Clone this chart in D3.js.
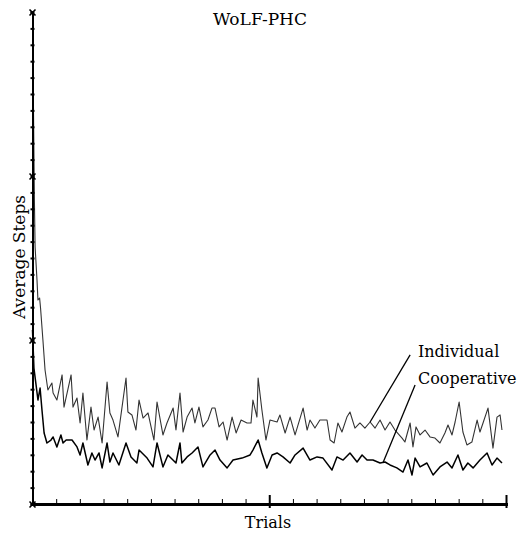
<!DOCTYPE html>
<html>
<head>
<meta charset="utf-8">
<script src="https://cdn.jsdelivr.net/npm/d3@7"></script>
<style>
  body { margin: 0; background: #fff; }
  text { font-family: 'DejaVu Serif', serif; fill: #000; }
</style>
</head>
<body>
<script>
// Individual learners
const indTrials = [0, 0.8, 1.1, 1.9, 2.3, 3.0, 3.4, 4.4, 5.3, 6.5, 8.2, 8.7, 10.3, 12.5, 13.3, 16.3, 17.1, 18.8, 20.1, 21.3,
  23.0, 24.7, 26.0, 27.7, 29.4, 31.5, 32.7, 34.0, 36.1, 39.5, 40.3, 42.0, 43.7, 45.0, 46.7, 48.8, 51.3, 52.6, 55.1, 56.8,
  59.4, 60.6, 62.3, 63.6, 65.3, 67.4, 68.6, 70.3, 72.0, 74.1, 75.8, 77.1, 78.8, 80.5, 82.2, 84.3, 86.0, 88.1, 90.6, 92.3,
  93.1, 94.8, 95.3, 96.9, 98.6, 100.3, 103.3, 104.5, 106.7, 108.8, 110.9, 114.3, 116.0, 117.2, 119.3, 121.4, 124.4, 125.7, 127.4, 129.0,
  130.7, 132.8, 134.1, 136.2, 138.3, 140.4, 142.6, 144.7, 146.8, 148.9, 151.0, 153.1, 156.1, 157.3, 159.5, 160.7, 162.0, 163.7, 165.8, 167.9,
  170.0, 172.1, 174.2, 175.5, 177.2, 178.5, 180.2, 181.8, 183.5, 185.6, 187.8, 189.0, 190.3, 192.4, 194.5, 196.2, 197.5, 198.3]
const indSteps = [30.0, 18.54, 15.67, 13.66, 12.44, 12.56, 11.95, 10.0, 8.17, 6.95, 7.38, 6.77, 6.34, 7.87, 5.91, 7.87, 5.91, 6.46, 4.94, 6.77,
  3.90, 5.91, 4.51, 5.30, 3.72, 7.44, 5.55, 5.12, 4.09, 7.68, 5.61, 5.43, 4.51, 6.34, 5.24, 5.55, 3.90, 6.22, 4.21, 4.94,
  5.85, 4.51, 6.77, 4.39, 5.30, 5.85, 4.94, 5.91, 4.70, 5.12, 5.85, 5.85, 4.70, 5.00, 3.90, 5.30, 4.33, 5.12, 4.94, 4.94,
  6.34, 5.30, 7.68, 5.73, 3.90, 5.12, 5.00, 5.43, 4.33, 5.30, 4.21, 5.85, 4.51, 5.12, 4.63, 5.12, 5.12, 3.90, 3.72, 4.94,
  4.39, 5.30, 5.61, 4.63, 4.94, 4.63, 5.00, 4.63, 5.12, 4.51, 5.00, 4.51, 4.02, 3.78, 4.94, 3.48, 4.70, 4.21, 4.51, 4.09,
  4.02, 3.72, 4.33, 4.82, 4.21, 5.00, 6.22, 4.39, 3.60, 3.78, 5.12, 4.39, 4.94, 5.85, 3.41, 5.30, 5.43, 4.51]

// Cooperative learners
const coopTrials = [0, 0.6, 1.5, 2.3, 3.2, 4.0, 4.9, 6.1, 7.8, 8.7, 10.3, 12.0, 12.9, 14.2, 16.7, 18.8, 20.1, 21.3, 23.4, 25.1,
  26.4, 28.1, 29.4, 31.5, 32.7, 34.0, 36.5, 39.5, 41.6, 44.1, 45.0, 48.4, 50.9, 52.6, 55.1, 57.2, 60.6, 62.3, 63.1, 65.3,
  67.4, 69.9, 72.0, 75.0, 77.1, 79.2, 82.2, 84.7, 88.5, 91.9, 93.1, 95.3, 96.9, 99.0, 101.2, 103.3, 105.8, 108.8, 110.9, 114.3,
  117.2, 120.2, 122.7, 126.5, 128.6, 131.2, 134.1, 137.1, 139.2, 141.3, 143.8, 146.8, 148.9, 151.0, 153.9, 156.5, 158.6, 160.3, 161.6, 163.7,
  166.6, 169.2, 172.1, 175.1, 177.2, 179.7, 181.8, 183.9, 186.1, 189.0, 192.0, 194.1, 196.2, 198.3]
const coopSteps = [10.61, 8.29, 7.26, 6.34, 7.07, 5.73, 4.33, 3.72, 3.90, 4.09, 3.48, 4.21, 3.72, 3.90, 3.90, 3.48, 2.99, 3.72, 2.38, 3.11,
  2.68, 3.11, 2.20, 3.72, 2.56, 3.11, 2.38, 3.72, 2.87, 2.50, 3.29, 2.80, 2.26, 3.72, 2.26, 2.99, 2.50, 3.72, 2.50, 2.87,
  3.11, 3.48, 2.26, 2.99, 3.29, 2.68, 2.20, 2.68, 2.80, 2.99, 3.29, 3.90, 3.11, 2.20, 2.99, 3.11, 2.87, 2.50, 2.99, 3.41,
  2.68, 2.87, 2.80, 2.07, 2.87, 2.68, 3.11, 2.56, 2.99, 2.68, 2.68, 2.50, 2.56, 2.38, 2.20, 1.95, 2.68, 1.77, 2.80, 2.26,
  2.50, 1.77, 2.26, 2.56, 2.20, 2.99, 2.07, 2.50, 2.20, 2.68, 3.11, 2.38, 2.80, 2.50]

const title = 'WoLF-PHC'
const xLabel = 'Trials'
const yLabel = 'Average Steps'
const seriesNames = ['Individual', 'Cooperative']

const w = 521
const h = 533
const x = d3.scaleLinear().domain([0, 200]).range([32.5, 506])
const y = d3.scaleLinear().domain([0, 30]).range([504, 12])

const svg = d3.select('body').append('svg').attr('width', w).attr('height', h)

const line = d3.line().x((d) => x(d[0])).y((d) => y(d[1]))

const indData = indTrials.map((t, i) => [t, indSteps[i]])
const coopData = coopTrials.map((t, i) => [t, coopSteps[i]])

svg.append('path').datum(indData)
  .attr('d', line).attr('fill', 'none')
  .attr('stroke', '#333').attr('stroke-width', 1.1).attr('stroke-linejoin', 'round')

svg.append('path').datum(coopData)
  .attr('d', line).attr('fill', 'none')
  .attr('stroke', '#000').attr('stroke-width', 1.5).attr('stroke-linejoin', 'round')

// y axis: small tick every step, cross marks every 10
const yAxis = d3.axisLeft(y).tickValues(d3.range(0, 31, 1)).tickSize(2).tickFormat('')
const gy = svg.append('g').attr('transform', `translate(${x(0)},0)`).call(yAxis)
gy.select('.domain').attr('stroke-width', 2)
gy.selectAll('.tick line').attr('x1', -2).attr('x2', 2).attr('stroke-width', 2)
gy.selectAll('.tick').filter((d) => d % 10 === 0).each(function () {
  const g = d3.select(this)
  g.append('line').attr('x1', -3).attr('x2', 3).attr('y1', -3).attr('y2', 3).attr('stroke', '#000').attr('stroke-width', 1.6)
  g.append('line').attr('x1', -3).attr('x2', 3).attr('y1', 3).attr('y2', -3).attr('stroke', '#000').attr('stroke-width', 1.6)
})

// x axis
const xAxis = d3.axisBottom(x).tickValues(d3.range(0, 201, 10)).tickSize(2).tickFormat('')
const gx = svg.append('g').attr('transform', `translate(0,${y(0)})`).call(xAxis)
gx.select('.domain').attr('stroke-width', 3)
gx.selectAll('.tick line').attr('y1', -5).attr('y2', 2).attr('stroke-width', 1)
gx.selectAll('.tick line').filter((d) => d === 100 || d === 200)
  .attr('y1', -9).attr('y2', 4).attr('stroke-width', 2)

// titles
svg.append('text').attr('x', 260).attr('y', 25).attr('text-anchor', 'middle')
  .style('font-size', '17px').text(title)
svg.append('text').attr('x', 268).attr('y', 528).attr('text-anchor', 'middle')
  .style('font-size', '16px').text(xLabel)
svg.append('text').attr('transform', 'translate(25,257) rotate(-90)').attr('text-anchor', 'middle')
  .style('font-size', '17px').text(yLabel)

// leader lines + labels
const leaders = [
  { from: [142.6, 5.0], to: [159.5, 9.09], label: [162.8, 8.96] },
  { from: [148.0, 2.5], to: [161.6, 7.26], label: [162.8, 7.32] }
]
leaders.forEach((l, i) => {
  svg.append('line')
    .attr('x1', x(l.from[0])).attr('y1', y(l.from[1]))
    .attr('x2', x(l.to[0])).attr('y2', y(l.to[1]))
    .attr('stroke', '#000').attr('stroke-width', 1.3)
  svg.append('text').attr('x', x(l.label[0])).attr('y', y(l.label[1]))
    .style('font-size', '16px').text(seriesNames[i])
})
</script>
</body>
</html>
